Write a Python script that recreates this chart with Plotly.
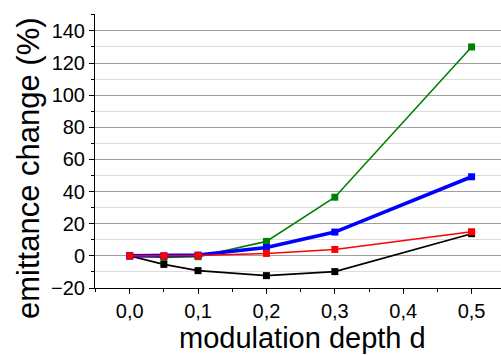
import plotly.graph_objects as go

depth = [0.0, 0.05, 0.1, 0.2, 0.3, 0.5]
black_vals = [0, -5.3, -9.2, -12.3, -9.8, 13.8]
green_vals = [0, -1.0, -0.5, 9.0, 36.5, 130]
blue_vals = [0, 0.0, 0.5, 5.2, 14.8, 49.2]
red_vals = [0, 0.0, 0.2, 1.5, 4.0, 15.0]

x_ticks = [0.0, 0.1, 0.2, 0.3, 0.4, 0.5]
y_ticks = [-20, 0, 20, 40, 60, 80, 100, 120, 140]

series = [
    ("black", black_vals, "#000000", 1.6),
    ("green", green_vals, "#008000", 1.6),
    ("blue", blue_vals, "#0000ff", 3.6),
    ("red", red_vals, "#ff0000", 1.6),
]

fig = go.Figure()
for name, vals, col, w in series:
    fig.add_trace(go.Scatter(
        x=depth, y=vals, mode="lines+markers", name=name,
        line=dict(color=col, width=w),
        marker=dict(symbol="square", size=7, color=col),
        showlegend=False, cliponaxis=False,
    ))

font = "Liberation Sans, Arial, sans-serif"
fig.update_layout(
    template="none",
    width=501, height=355,
    margin=dict(l=95, r=0, t=14, b=67, autoexpand=False),
    paper_bgcolor="white", plot_bgcolor="white",
    separators=",.",
    font=dict(family=font, color="black", size=20),
    xaxis=dict(
        range=[-0.0507, 0.543], tickvals=x_ticks, tickformat=".1f",
        showgrid=False, zeroline=False, automargin=False,
        showline=True, linecolor="black", linewidth=1,
        ticks="outside", ticklen=5, tickcolor="black",
        minor=dict(dtick=0.05, tick0=0.05, ticks="outside", ticklen=3, tickcolor="black", showgrid=False),
        tickfont=dict(size=20),
    ),
    yaxis=dict(
        range=[-20, 150.5], tickvals=y_ticks, automargin=False,
        showgrid=True, gridcolor="#a0a0a0", gridwidth=1,
        zeroline=False,
        showline=True, linecolor="black", linewidth=1,
        ticks="outside", ticklen=5, tickcolor="black",
        minor=dict(dtick=10, tick0=-10, ticks="outside", ticklen=3, tickcolor="black",
                   showgrid=True, gridcolor="#dcdcdc", gridwidth=1),
        tickfont=dict(size=20),
    ),
    annotations=[
        dict(text="modulation depth d", xref="paper", yref="paper",
             x=0.51, y=-0.184, xanchor="center", yanchor="middle",
             showarrow=False, font=dict(size=29)),
        dict(text="emittance change (%)", xref="paper", yref="paper",
             x=-0.1626, y=0.438, xanchor="center", yanchor="middle", textangle=-90,
             showarrow=False, font=dict(size=31)),
    ],
)

fig.write_html("out.html", config={"displayModeBar": False},
               post_script="document.body.style.margin='0';document.body.style.padding='0';")
